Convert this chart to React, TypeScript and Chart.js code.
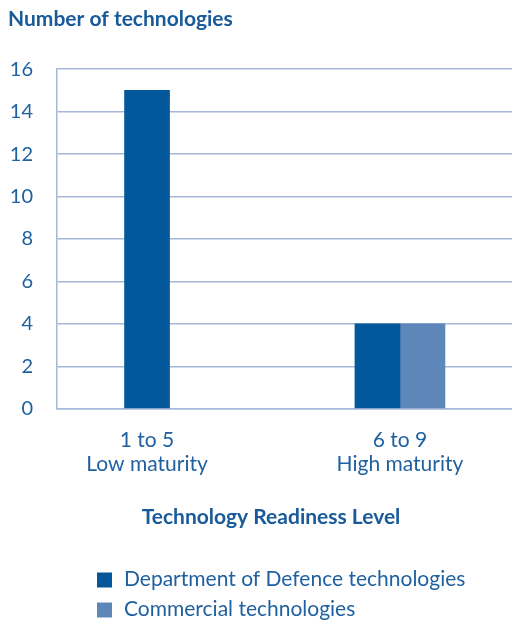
import React, { useEffect, useRef } from "react";
import { Chart, registerables } from "chart.js";

Chart.register(...registerables);

// ---- data ----
const categoryLabels: string[][] = [
  ["1 to 5", "Low maturity"],
  ["6 to 9", "High maturity"],
];
const categoryPositions = [0, 1];
const seriesNames = ["Department of Defence technologies", "Commercial technologies"];
const dodValues: (number | null)[] = [15, 4];
const commercialValues: (number | null)[] = [null, 4];
const yMin = 0;
const yMax = 16;
const yStep = 2;
const chartTitle = "Number of technologies";
const xAxisTitle = "Technology Readiness Level";

// ---- styles ----
const DOD_COLOR = "#03589b";
const COM_COLOR = "#5e87b9";
const TEXT_COLOR = "#1f60a0";
const TITLE_COLOR = "#185a9a";
const GRID_COLOR = "#a6b8d9";
const FONT = "Lato";

const extraText = {
  id: "extraText",
  afterDraw(chart: any) {
    const ctx = chart.ctx;
    ctx.save();
    ctx.fillStyle = TITLE_COLOR;
    ctx.font = `bold 21px ${FONT}`;
    ctx.textAlign = "center";
    ctx.textBaseline = "middle";
    ctx.fillText(xAxisTitle, 271, 517);

    ctx.font = `21px ${FONT}`;
    ctx.textAlign = "left";
    chart.data.datasets.forEach((ds: any, i: number) => {
      const cy = 580 + i * 30;
      ctx.fillStyle = ds.backgroundColor;
      ctx.fillRect(97, cy - 7.5, 15, 15);
      ctx.fillStyle = TEXT_COLOR;
      ctx.fillText(ds.label, 124, cy - 1);
    });
    ctx.restore();
  },
};

export default function App() {
  const ref = useRef<HTMLCanvasElement | null>(null);

  useEffect(() => {
    if (!ref.current) return;
    const toPoints = (vals: (number | null)[]) =>
      vals.map((v, i) => ({ x: categoryPositions[i], y: v }));

    const chart = new Chart(ref.current, {
      type: "bar",
      data: {
        datasets: [
          {
            label: seriesNames[0],
            data: toPoints(dodValues) as any,
            backgroundColor: DOD_COLOR,
            barThickness: 45,
            skipNull: true,
          },
          {
            label: seriesNames[1],
            data: toPoints(commercialValues) as any,
            backgroundColor: COM_COLOR,
            barThickness: 45,
            skipNull: true,
          },
        ],
      },
      options: {
        animation: false,
        responsive: false,
        devicePixelRatio: 1,
        layout: { padding: { left: 8, right: 0, top: 0, bottom: 128 } },
        plugins: {
          legend: { display: false },
          tooltip: { enabled: false },
          title: {
            display: true,
            text: chartTitle,
            align: "start",
            color: TITLE_COLOR,
            font: { family: FONT, size: 21, weight: "bold", lineHeight: 1.2 },
            padding: { top: 7, bottom: 37 },
          },
        },
        scales: {
          x: {
            type: "linear",
            offset: false,
            min: -0.356,
            max: 1.443,
            grid: { display: false, drawTicks: false, offset: false },
            border: { display: true, color: GRID_COLOR, width: 1.5 },
            afterBuildTicks(scale: any) {
              scale.ticks = categoryPositions.map((v) => ({ value: v }));
            },
            ticks: {
              padding: 19,
              color: TEXT_COLOR,
              font: { family: FONT, size: 21, lineHeight: 1.15 },
              maxRotation: 0,
              autoSkip: false,
              callback: (v: any) => {
                const i = categoryPositions.indexOf(Number(v));
                return i >= 0 ? categoryLabels[i] : "";
              },
            },
          },
          y: {
            min: yMin,
            max: yMax,
            afterFit(scale: any) {
              scale.width = 49;
            },
            grid: { color: GRID_COLOR, lineWidth: 1.5, drawTicks: false },
            border: { display: true, color: GRID_COLOR, width: 1.5 },
            ticks: {
              stepSize: yStep,
              padding: 24,
              color: TEXT_COLOR,
              font: { family: FONT, size: 20 },
            },
          },
        },
      },
      plugins: [extraText],
    });
    return () => chart.destroy();
  }, []);

  return (
    <div style={{ position: "absolute", left: 0, top: 0, width: 512, height: 623 }}>
      <canvas ref={ref} width={512} height={623} style={{ display: "block" }} />
    </div>
  );
}
